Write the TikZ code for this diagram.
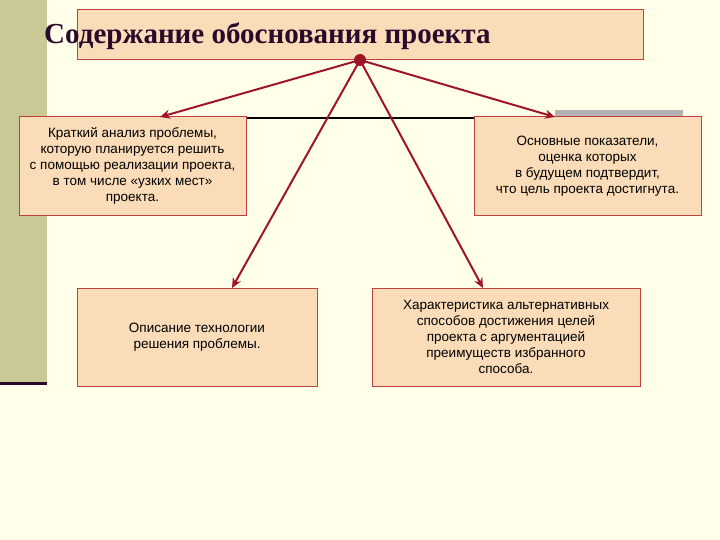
\documentclass[tikz,border=0pt]{standalone}
\usepackage{fontspec}
\setmainfont{Liberation Sans}
\newfontfamily\titlefont{Liberation Serif}
\usetikzlibrary{arrows.meta}
\definecolor{bg}{HTML}{FFFFEA}
\definecolor{olive}{HTML}{C9C995}
\definecolor{peach}{HTML}{FADCB8}
\definecolor{edge}{HTML}{C04040}
\definecolor{arr}{HTML}{A01428}
\definecolor{ttl}{HTML}{2A0A2A}
\begin{document}
\begin{tikzpicture}[x=1pt,y=-1pt,
  box/.style={draw=edge,fill=peach,line width=1pt},
  txt/.style={align=center,font=\fontsize{13.5}{16}\selectfont,text=black},
  link/.style={draw=arr,line width=2pt,-{Stealth[length=10pt,width=9pt]}}]
\useasboundingbox (0,0) rectangle (720,540);
\fill[bg] (0,0) rectangle (720,540);
\fill[olive] (0,0) rectangle (47,383);
\draw[ttl,line width=3pt] (0,383) -- (47,383);
\fill[black!30] (555,110) rectangle (683,118);
\draw[black,line width=2pt] (246,118) -- (474,118);
\draw[box] (77,10) rectangle (643,60);
\node[anchor=west,font=\titlefont\bfseries\fontsize{29}{32}\selectfont,text=ttl,inner sep=0] (title) at (44,36) {Содержание обоснования проекта};
\draw[box] (19,117) rectangle (246,216);
\node[txt] (b1) at (132.5,166) {Краткий анализ проблемы,\\которую планируется решить\\с помощью реализации проекта,\\в том числе «узких мест»\\проекта.};
\draw[box] (474,117) rectangle (701,216);
\node[txt] (b2) at (587.5,166) {Основные показатели,\\оценка которых\\в будущем подтвердит,\\что цель проекта достигнута.};
\draw[box] (77,288) rectangle (317,386);
\node[txt] (b3) at (197,337) {Описание технологии\\решения проблемы.};
\draw[box] (372,288) rectangle (640,386);
\node[txt] (b4) at (506,337) {Характеристика альтернативных\\способов достижения целей\\проекта с аргументацией\\преимуществ избранного\\способа.};
\coordinate (hub) at (360,60);
\coordinate (t1) at (160,117);
\coordinate (t2) at (555,117);
\coordinate (t3) at (232,288);
\coordinate (t4) at (483,288);
\draw[link] (hub) -- (t1);
\draw[link] (hub) -- (t2);
\draw[link] (hub) -- (t3);
\draw[link] (hub) -- (t4);
\fill[arr] (hub) circle (6);
\end{tikzpicture}
\end{document}
